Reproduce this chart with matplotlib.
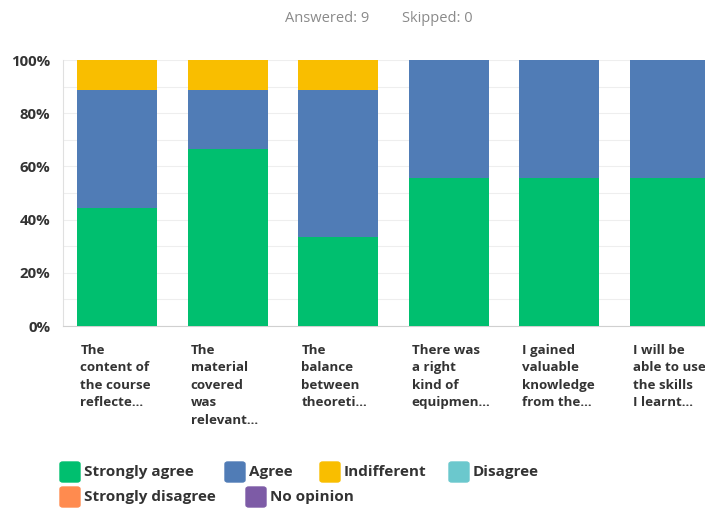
import matplotlib.pyplot as plt
from matplotlib.patches import FancyBboxPatch

categories = ["The\ncontent of\nthe course\nreflecte...",
              "The\nmaterial\ncovered\nwas\nrelevant...",
              "The\nbalance\nbetween\ntheoreti...",
              "There was\na right\nkind of\nequipmen...",
              "I gained\nvaluable\nknowledge\nfrom the...",
              "I will be\nable to use\nthe skills\nI learnt..."]
series = ["Strongly agree", "Agree", "Indifferent", "Disagree",
          "Strongly disagree", "No opinion"]
colors = ["#00BF6F", "#507CB6", "#F9BE00", "#6BC8CD", "#FF8B4F", "#7D5BA6"]
values = {
    "Strongly agree":    [44.44, 66.67, 33.33, 55.56, 55.56, 55.56],
    "Agree":             [44.44, 22.22, 55.56, 44.44, 44.44, 44.44],
    "Indifferent":       [11.11, 11.11, 11.11, 0, 0, 0],
    "Disagree":          [0, 0, 0, 0, 0, 0],
    "Strongly disagree": [0, 0, 0, 0, 0, 0],
    "No opinion":        [0, 0, 0, 0, 0, 0],
}
yticks = [0, 20, 40, 60, 80, 100]

W, H = 705, 509
fig = plt.figure(figsize=(W / 100, H / 100), dpi=100)
ax = fig.add_axes([63 / W, (H - 326) / H, (W - 63) / W, 266 / H])

x = list(range(len(categories)))
bottom = [0] * len(categories)
for s, c in zip(series, colors):
    ax.bar(x, values[s], 0.724, bottom=bottom, color=c, zorder=3)
    bottom = [b + v for b, v in zip(bottom, values[s])]

ax.set_xlim(-0.489, 5.321)
ax.set_ylim(0, 100)
ax.set_yticks(yticks)
ax.set_yticklabels([f"{t}%" for t in yticks], fontsize=10.8, color="#333333",
                   fontweight="bold", family="Open Sans")
ax.set_yticks(range(0, 101, 10), minor=True)
ax.yaxis.grid(True, which="both", color="#eeeeee", lw=0.8, zorder=0)
ax.tick_params(axis="y", length=0, pad=9, which="both")
ax.set_xticks([])
for sp in ["top", "right"]:
    ax.spines[sp].set_visible(False)
ax.spines["left"].set_color("#e0e0e0")
ax.spines["bottom"].set_color("#d0d0d0")

# category labels under bars
for i, lab in enumerate(categories):
    ax.text(i - 0.362 + 0.03, -6.6, lab, ha="left", va="top", fontsize=9.6,
            color="#333333", family="Open Sans", fontweight="bold",
            linespacing=1.46)

fig.text(285 / W, 1 - 18 / H, "Answered: 9", ha="left", va="center",
         fontsize=10.5, color="#8a8a8a", family="Open Sans")
fig.text(402 / W, 1 - 18 / H, "Skipped: 0", ha="left", va="center",
         fontsize=10.5, color="#8a8a8a", family="Open Sans")

# legend, laid out in two rows
rows = [series[:4], series[4:]]
xs = [[60, 225, 320, 449], [60, 246]]
ys = [472, 497]
for row, rx, ry in zip(rows, xs, ys):
    for s, px in zip(row, rx):
        c = colors[series.index(s)]
        fig.patches.append(FancyBboxPatch((px / W, (H - ry - 10) / H), 20 / W, 20 / H,
                                          boxstyle="round,pad=0,rounding_size=0.004",
                                          transform=fig.transFigure, color=c,
                                          figure=fig))
        fig.text((px + 24) / W, 1 - ry / H, s, ha="left", va="center",
                 fontsize=11, color="#333333", family="Open Sans",
                 fontweight="bold")

fig.savefig("out.png", dpi=100, facecolor="white")
